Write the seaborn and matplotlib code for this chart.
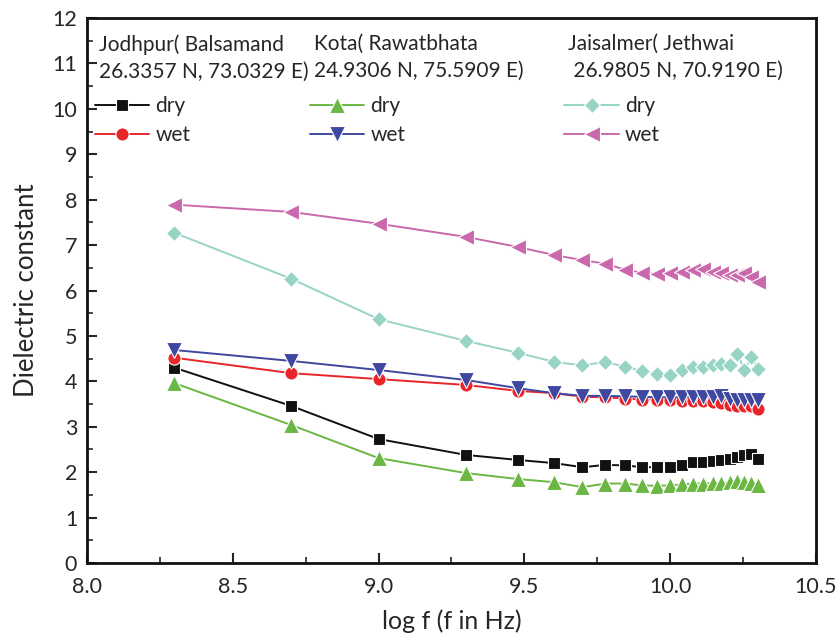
import numpy as np
import pandas as pd
import matplotlib
matplotlib.use("Agg")
import matplotlib.pyplot as plt
from matplotlib.ticker import MultipleLocator, FormatStrFormatter
from matplotlib.lines import Line2D
from matplotlib.legend import Legend
import seaborn as sns

# log f values (0.2, 0.5, 1, 2, 3 GHz, then 4..20 GHz)
log_f = [8.30, 8.70, 9.00, 9.30, 9.477, 9.602, 9.699, 9.778, 9.845, 9.903, 9.954,
         10.000, 10.041, 10.079, 10.114, 10.146, 10.176, 10.204, 10.230, 10.255,
         10.279, 10.301]

jodhpur_dry = [4.30, 3.46, 2.73, 2.38, 2.27, 2.20, 2.11, 2.16, 2.15, 2.11, 2.11,
               2.12, 2.16, 2.22, 2.22, 2.25, 2.27, 2.29, 2.33, 2.38, 2.41, 2.29]
jodhpur_wet = [4.52, 4.18, 4.05, 3.92, 3.79, 3.74, 3.66, 3.65, 3.62, 3.60, 3.60,
               3.58, 3.57, 3.57, 3.56, 3.55, 3.52, 3.48, 3.46, 3.45, 3.45, 3.40]
kota_dry = [3.96, 3.04, 2.31, 1.98, 1.85, 1.78, 1.67, 1.75, 1.75, 1.71, 1.70,
            1.71, 1.73, 1.75, 1.75, 1.76, 1.76, 1.78, 1.81, 1.78, 1.76, 1.71]
kota_wet = [4.69, 4.45, 4.25, 4.03, 3.85, 3.74, 3.68, 3.68, 3.67, 3.66, 3.65,
            3.65, 3.65, 3.65, 3.66, 3.66, 3.67, 3.62, 3.60, 3.58, 3.58, 3.59]
jaisalmer_dry = [7.27, 6.26, 5.37, 4.89, 4.63, 4.43, 4.35, 4.43, 4.32, 4.23, 4.17,
                 4.13, 4.24, 4.32, 4.32, 4.35, 4.39, 4.35, 4.61, 4.26, 4.54, 4.28]
jaisalmer_wet = [7.89, 7.73, 7.47, 7.18, 6.96, 6.78, 6.67, 6.59, 6.46, 6.39, 6.37,
                 6.38, 6.41, 6.45, 6.48, 6.41, 6.38, 6.34, 6.34, 6.38, 6.30, 6.19]

sites = ["Jodhpur( Balsamand\n26.3357 N, 73.0329 E)",
         "Kota( Rawatbhata\n24.9306 N, 75.5909 E)",
         "Jaisalmer( Jethwai\n 26.9805 N, 70.9190 E)"]

series = [
    (jodhpur_dry, "#111111", "s", 8),
    (jodhpur_wet, "#e8262a", "o", 9.5),
    (kota_dry, "#6ab843", "^", 11),
    (kota_wet, "#3f48a0", "v", 11),
    (jaisalmer_dry, "#97d4c6", "D", 8.5),
    (jaisalmer_wet, "#c968ad", "<", 11),
]

sns.set_style("ticks")
plt.rcParams["font.family"] = ["Lato", "DejaVu Sans"]

fig = plt.figure(figsize=(8.36, 6.42), dpi=100)
ax = fig.add_axes([0.104, 0.123, 0.872, 0.849])

for vals, col, mk, ms in series:
    sns.lineplot(x=log_f, y=vals, ax=ax, color=col, marker=mk, markersize=ms,
                 markeredgecolor="white", markeredgewidth=0.8, linewidth=1.4,
                 legend=False)

ax.set_xlim(8.0, 10.5)
ax.set_ylim(0, 12)
ax.xaxis.set_major_locator(MultipleLocator(0.5))
ax.xaxis.set_minor_locator(MultipleLocator(0.25))
ax.yaxis.set_major_locator(MultipleLocator(1))
ax.yaxis.set_minor_locator(MultipleLocator(0.5))
ax.xaxis.set_major_formatter(FormatStrFormatter("%.1f"))
ax.tick_params(which="major", direction="in", length=7, width=1.5, labelsize=15.5,
               top=False, right=False)
ax.tick_params(axis="x", which="major", pad=10)
ax.tick_params(axis="y", which="major", pad=7)
ax.tick_params(which="minor", direction="in", length=4, width=1.2,
               top=False, right=False)
for sp in ax.spines.values():
    sp.set_linewidth(2)
    sp.set_color("#111111")
ax.set_xlabel("log f (f in Hz)", fontsize=18, labelpad=9)
ax.set_ylabel("Dielectric constant", fontsize=18.5, labelpad=10)

# legend groups
x_pos = [0.016, 0.311, 0.66]
for i, site in enumerate(sites):
    ax.text(x_pos[i], 0.97, site, transform=ax.transAxes, fontsize=15,
            va="top", ha="left", linespacing=1.42)
    handles = []
    for vals, col, mk, ms in series[2 * i:2 * i + 2]:
        handles.append(Line2D([], [], color=col, marker=mk, markersize=ms,
                              markeredgecolor="white", markeredgewidth=0.8,
                              linewidth=1.4))
    leg = Legend(ax, handles, ["dry", "wet"], loc="upper left",
                 bbox_to_anchor=(x_pos[i] - 0.005, 0.857), frameon=False,
                 fontsize=15, handlelength=2.6, handletextpad=0.3,
                 labelspacing=0.45, borderaxespad=0, borderpad=0)
    ax.add_artist(leg)

fig.savefig("out.png", dpi=100)
